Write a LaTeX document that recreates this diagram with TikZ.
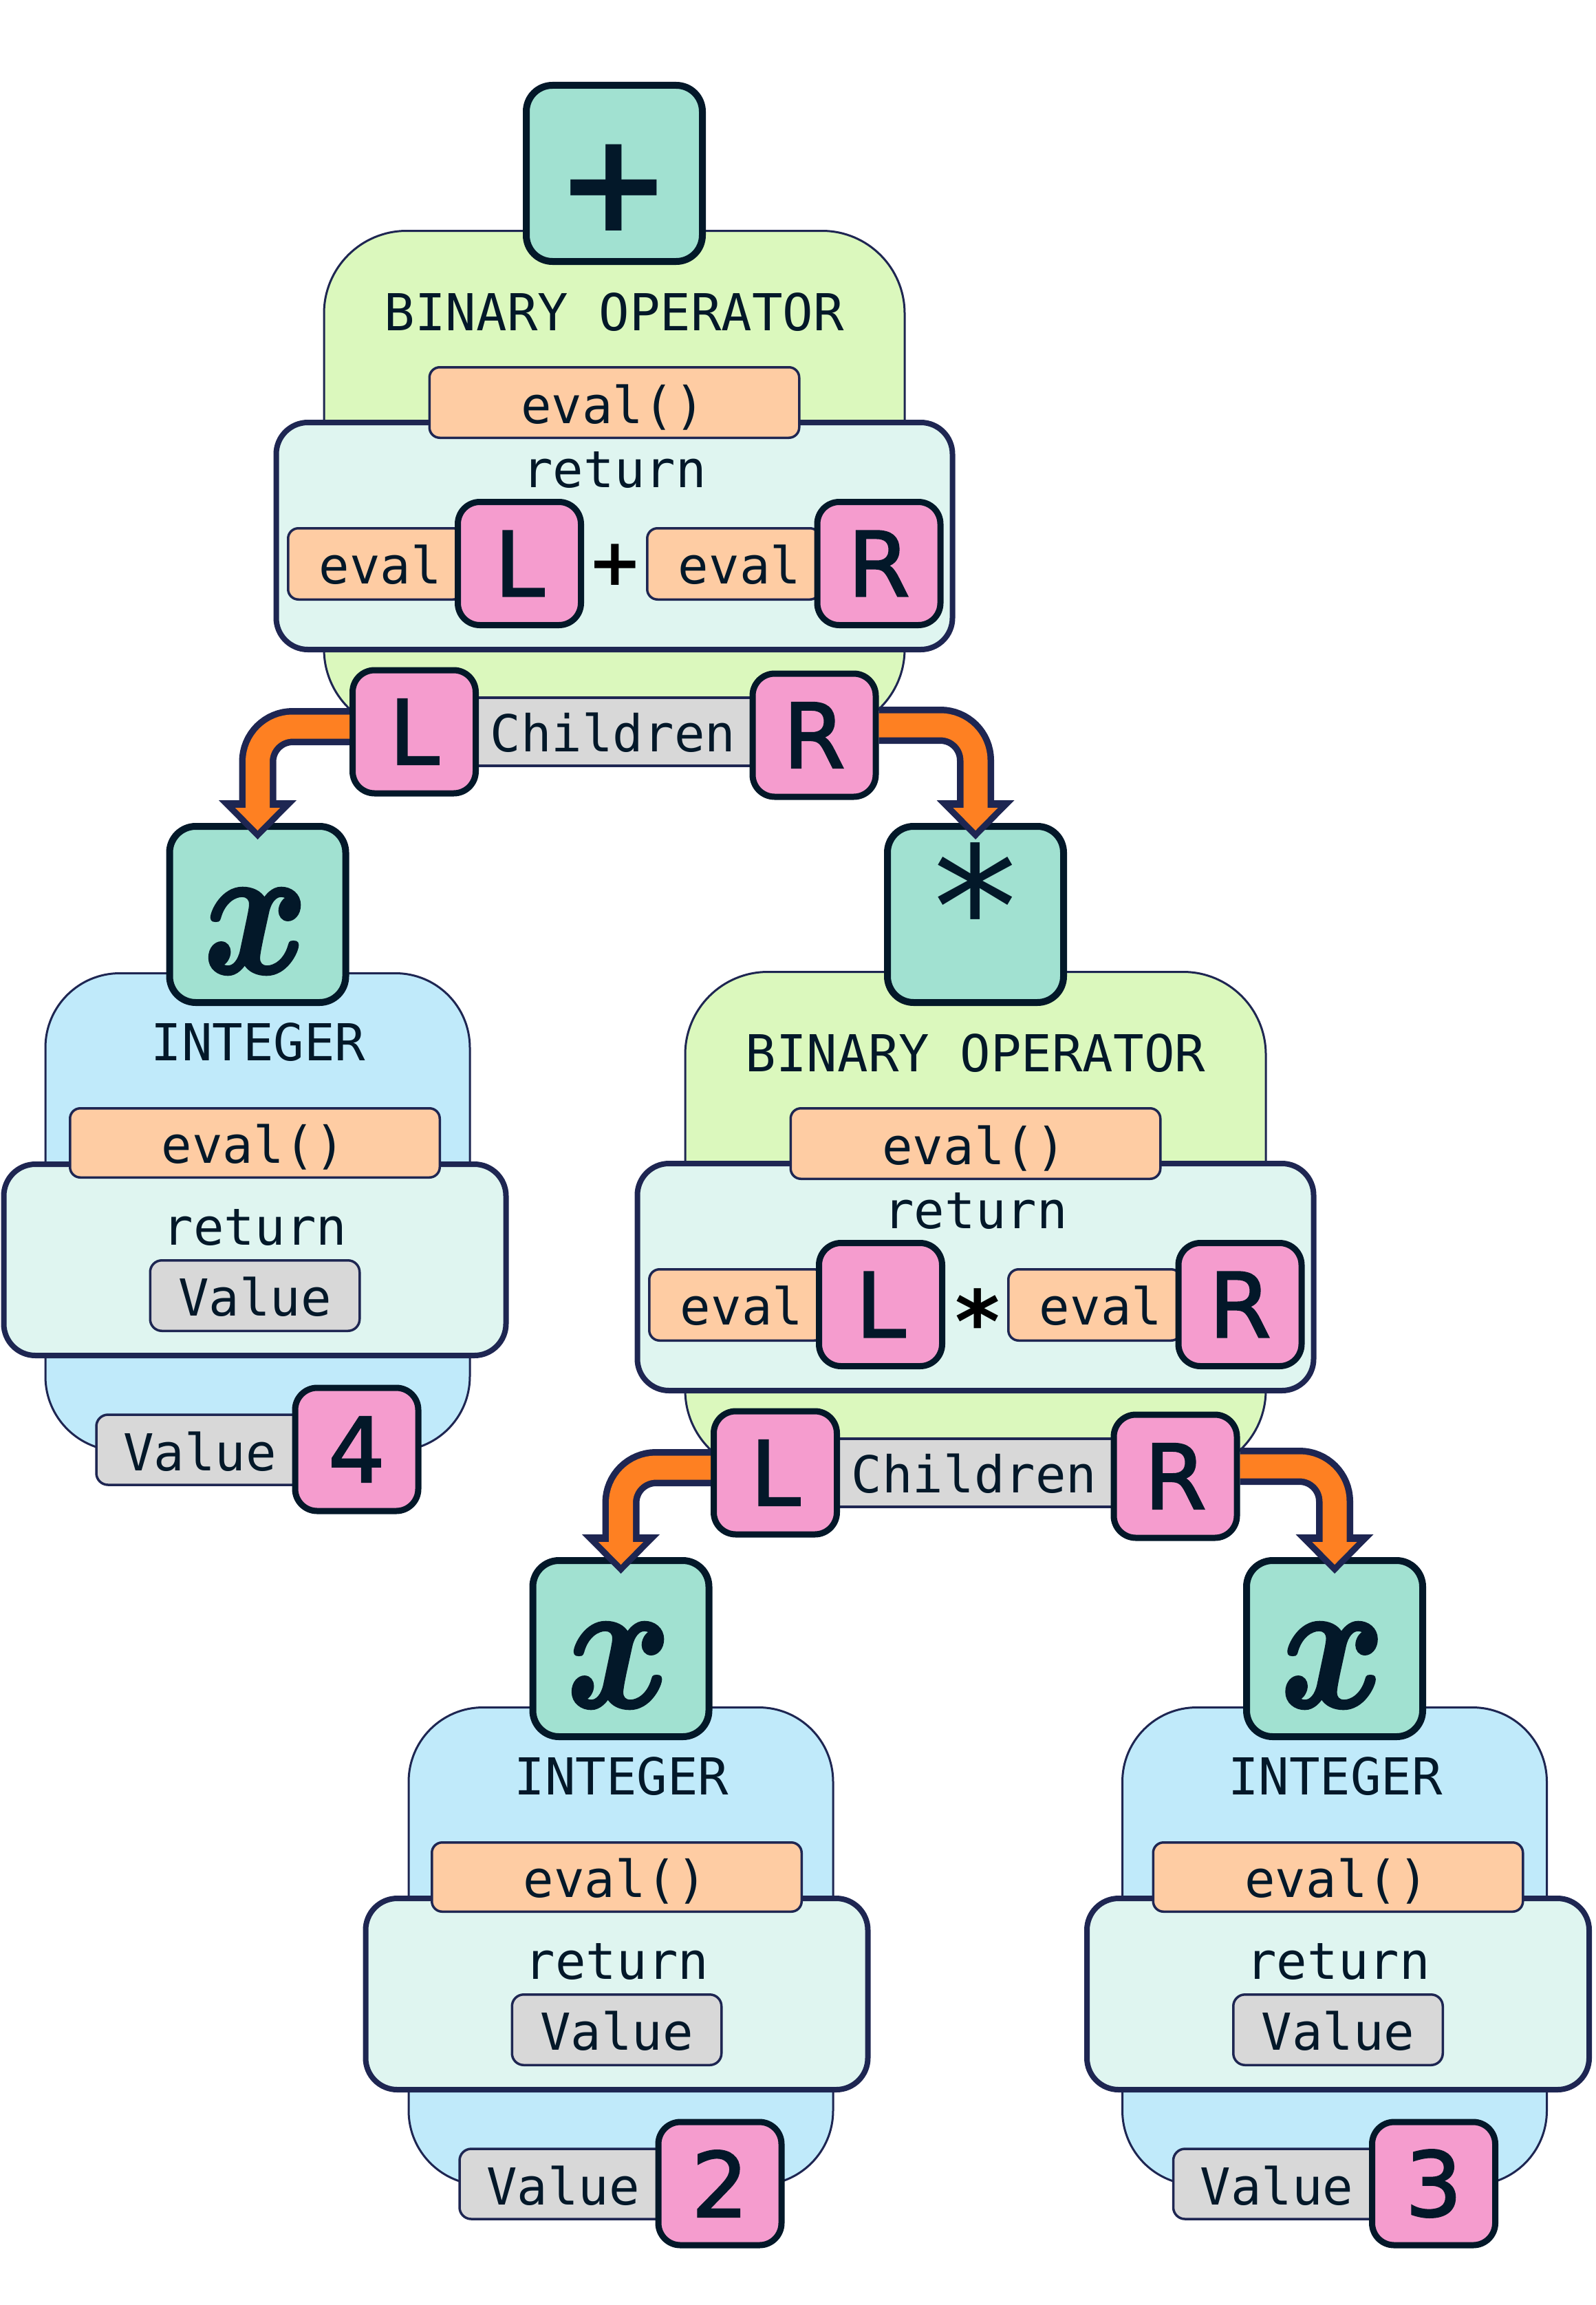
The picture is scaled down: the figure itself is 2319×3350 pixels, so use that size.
\documentclass[tikz,border=0pt]{standalone}
\usepackage{fontspec}
\usetikzlibrary{arrows.meta}
\newfontfamily\monof{DejaVu Sans Mono}
\newfontfamily\sansf{DejaVu Sans}
\newfontfamily\pinkf{DejaVu Sans}[FakeBold=2]
\newfontfamily\mathxf{latinmodern-math.otf}[FakeBold=2]
\definecolor{ink}{HTML}{031829}
\definecolor{cdark}{HTML}{031829}
\definecolor{cnavy}{HTML}{1E2652}
\definecolor{cmint}{HTML}{A1E1D1}
\definecolor{cgreen}{HTML}{DBF8BD}
\definecolor{ccyan}{HTML}{DFF5F0}
\definecolor{cblue}{HTML}{C0EAFA}
\definecolor{cpeach}{HTML}{FECCA3}
\definecolor{cpink}{HTML}{F59CCE}
\definecolor{cgray}{HTML}{D8D8D8}
\definecolor{corange}{HTML}{FE8022}
\tikzset{
  mintbox/.style={draw=cdark, fill=cmint, line width=10pt, rounded corners=38pt, minimum width=256pt, minimum height=256pt, inner sep=0pt},
  pinkbox/.style={draw=cdark, fill=cpink, line width=9pt, rounded corners=32pt, minimum width=179pt, minimum height=179pt, inner sep=0pt, text=ink, font=\pinkf\fontsize{130pt}{130pt}\selectfont},
  greenbox/.style={draw=cnavy, fill=cgreen, line width=3pt, rounded corners=120pt, minimum width=844pt, minimum height=728pt, inner sep=0pt},
  bluebox/.style={draw=cnavy, fill=cblue, line width=3pt, rounded corners=108pt, minimum width=617pt, minimum height=694pt, inner sep=0pt},
  retbox/.style={draw=cnavy, fill=ccyan, line width=8pt, rounded corners=46pt, inner sep=0pt},
  peachbox/.style={draw=cnavy, fill=cpeach, line width=3.5pt, rounded corners=15pt, inner sep=0pt},
  graybox/.style={draw=cnavy, fill=cgray, line width=3.5pt, rounded corners=17pt, inner sep=0pt},
  barbox/.style={draw=cnavy, fill=cgray, line width=4pt, inner sep=0pt},
  mono/.style={font=\monof\fontsize{74pt}{80pt}\selectfont, text=ink, inner sep=0pt, anchor=base},
  bigplus/.style={font=\sansf\bfseries\fontsize{200pt}{200pt}\selectfont, text=ink, inner sep=0pt},
  bigstar/.style={font=\sansf\fontsize{245pt}{245pt}\selectfont, text=ink, inner sep=0pt, anchor=base},
  smallplus/.style={font=\sansf\bfseries\fontsize{95pt}{95pt}\selectfont, text=black, inner sep=0pt},
  smallstar/.style={font=\sansf\bfseries\fontsize{125pt}{125pt}\selectfont, text=black, inner sep=0pt, anchor=base},
  xglyph/.style={text=ink, inner sep=0pt, font=\mathxf\fontsize{270pt}{270pt}\selectfont},
  arrnavy/.style={draw=cnavy, line width=54pt, rounded corners=51pt, -{Triangle[length=57pt,width=113pt,line width=0pt]}},
  arrorange/.style={draw=corange, line width=35pt, rounded corners=51pt, shorten >=13pt, -{Triangle[length=33pt,width=65pt,line width=0pt]}}
}
\newcommand\binoptree[3]{%
  \node[greenbox] (#3-box) at (#1,{#2+365.5}) {};
  \node[mintbox] (#3-mint) at (#1,{#2-82}) {};
  \node[mono] (#3-title) at (#1,{#2+146}) {BINARY OPERATOR};
  \node[retbox, minimum width=983pt, minimum height=330pt] (#3-ret) at (#1,{#2+445}) {};
  \node[peachbox, minimum width=537.5pt, minimum height=102.5pt] (#3-evalbox) at (#1,{#2+251}) {};
  \node[mono] (#3-evaltxt) at ({#1-2},{#2+281}) {eval()};
  \node[mono] (#3-rettxt) at (#1,{#2+374}) {return};
  \node[peachbox, minimum width=254.5pt, minimum height=103.5pt] (#3-peL) at ({#1-347},{#2+485.5}) {};
  \node[peachbox, minimum width=251.5pt, minimum height=103.5pt] (#3-peR) at ({#1+173.5},{#2+485.5}) {};
  \node[mono] (#3-evL) at ({#1-340},{#2+514}) {eval};
  \node[mono] (#3-evR) at ({#1+182},{#2+514}) {eval};
  \node[pinkbox] (#3-pL) at ({#1-138},{#2+485}) {L};
  \node[pinkbox] (#3-pR) at ({#1+384.5},{#2+485}) {R};
  \node[barbox, minimum width=420pt, minimum height=99pt] (#3-bar) at ({#1-5},{#2+729.5}) {};
  \node[mono] (#3-chtxt) at ({#1-2},{#2+758}) {Children};
  \node[pinkbox] (#3-Lc) at ({#1-291},{#2+729.5}) {L};
  \node[pinkbox] (#3-Rc) at ({#1+290.5},{#2+734.5}) {R};
}
\newcommand\inttree[5]{%
  \node[bluebox] (#4-box) at (#1,{#2+565.5}) {};
  \node[mintbox] (#4-mint) at (#1,{#2+133}) {};
  \node[xglyph] (#4-x) at ({#1-2.5},{#2+157.5}) {\scalebox{0.85}[1]{𝒙}};
  \node[mono] (#4-title) at ({#1+1},{#2+345}) {INTEGER};
  \node[retbox, minimum width=730pt, minimum height=278pt] (#4-ret) at ({#1+(#3)},{#2+635}) {};
  \node[peachbox, minimum width=537.5pt, minimum height=100.5pt] (#4-evalbox) at ({#1+(#3)},{#2+465}) {};
  \node[mono] (#4-evaltxt) at ({#1+(#3)-2},{#2+494}) {eval()};
  \node[mono] (#4-rettxt) at ({#1+(#3)},{#2+613}) {return};
  \node[graybox, minimum width=304.5pt, minimum height=102.5pt] (#4-valbox) at ({#1+(#3)},{#2+687}) {};
  \node[mono] (#4-valtxt) at ({#1+(#3)},{#2+716}) {Value};
  \node[graybox, minimum width=333pt, minimum height=102pt] (#4-bar) at ({#1-68},{#2+911}) {};
  \node[mono] (#4-bartxt) at ({#1-84},{#2+941}) {Value};
  \node[pinkbox] (#4-digit) at ({#1+144},{#2+910.5}) {#5};
}
\begin{document}
\begin{tikzpicture}[x=1pt, y=-1pt]
  \fill[white] (0,0) rectangle (2319,3350);
  \useasboundingbox (0,0) rectangle (2319,3350);
  % root: binary operator +
  \binoptree{893}{334}{a}
  \node[bigplus] (a-op) at (892,272.5) {+};
  \node[smallplus] (a-sop) at (894,821) {+};
  % left child: integer 4
  \inttree{374.5}{1196}{-4}{c}{4}
  % right child: binary operator *
  \binoptree{1418}{1411}{b}
  \node[bigstar] (b-op) at (1418,1406) {*};
  \node[smallstar] (b-sop) at (1421,1965) {*};
  % grandchildren: integers 2 and 3
  \inttree{902.5}{2263}{-6}{d}{2}
  \inttree{1940}{2263}{5}{e}{3}
  % connectors
  \draw[arrnavy] ([yshift=7.5pt]a-Lc.west) -| ([yshift=-24pt]c-mint.north);
  \draw[arrorange] ([yshift=7.5pt]a-Lc.west) -| ([yshift=-24pt]c-mint.north);
  \draw[arrnavy] ([yshift=14.5pt]a-Rc.east) -| ([yshift=-24pt]b-mint.north);
  \draw[arrorange] ([yshift=14.5pt]a-Rc.east) -| ([yshift=-24pt]b-mint.north);
  \draw[arrnavy] ([yshift=7.5pt]b-Lc.west) -| ([yshift=-24pt]d-mint.north);
  \draw[arrorange] ([yshift=7.5pt]b-Lc.west) -| ([yshift=-24pt]d-mint.north);
  \draw[arrnavy] ([yshift=14.5pt]b-Rc.east) -| ([yshift=-24pt]e-mint.north);
  \draw[arrorange] ([yshift=14.5pt]b-Rc.east) -| ([yshift=-24pt]e-mint.north);
\end{tikzpicture}
\end{document}
